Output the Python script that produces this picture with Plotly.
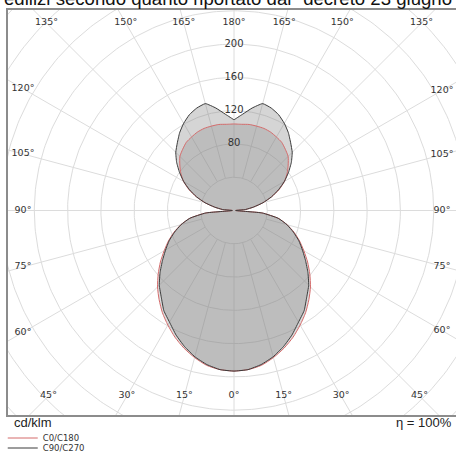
import numpy as np
import plotly.graph_objects as go

# ---- data ----
gamma = list(range(0, 181, 5))  # degrees, 0 = straight down
c0_c180 = [193, 192, 189, 183, 176, 168, 159, 150, 140, 130, 119, 108, 97, 87, 77, 66, 54, 34, 2,
           14, 24, 36, 48, 60, 70, 78, 85, 92, 96, 100, 102, 104, 105, 105, 105, 104, 104]
c90_c270 = [193, 192, 188, 182, 174, 165, 155, 147, 136, 127, 116, 105, 95, 86, 76, 66, 54, 34, 2,
            14, 24, 36, 48, 59, 70, 80, 90, 99, 106, 114, 121, 127, 131, 133, 125, 116, 109]

ring_values = [40, 80, 120, 160, 200, 240, 280, 320, 360, 400]
ring_labels = [80, 120, 160, 200]
spoke_angles = list(range(0, 360, 15))
top_labels = [135, 150, 165, 180, 165, 150, 135]
bottom_labels = [45, 30, 15, 0, 15, 30, 45]
side_labels = [120, 105, 90, 75, 60]

title_text = 'edilizi secondo quanto riportato dal "decreto 23 giugno'
unit_text = "cd/klm"
eta_text = "η = 100%"

# ---- geometry of the picture ----
W, H = 456, 454
CX, CY, S = 234.0, 210.5, 0.832        # centre in px and px per cd/klm
L_PX, R_PX, T_PX, B_PX = 8, 456, 10, 415

x_range = [(L_PX - CX) / S, (R_PX - CX) / S]
y_range = [(CY - B_PX) / S, (CY - T_PX) / S]

LABEL_FONT = dict(family="DejaVu Sans", size=9.5, color="#333333")


def closed_curve(values):
    g = np.radians(np.array(gamma, dtype=float))
    r = np.array(values, dtype=float)
    xr, yr = r * np.sin(g), -r * np.cos(g)
    x = np.concatenate([xr, -xr[::-1]])
    y = np.concatenate([yr, yr[::-1]])
    return x, y


fig = go.Figure()

# grid rings
t = np.radians(np.linspace(0, 360, 361))
for rv in ring_values:
    fig.add_trace(go.Scatter(x=rv * np.cos(t), y=rv * np.sin(t), mode="lines",
                             line=dict(color="#dcdcdc", width=1), hoverinfo="skip", showlegend=False))
# spokes
for a in spoke_angles:
    ar = np.radians(a)
    fig.add_trace(go.Scatter(x=[40 * np.sin(ar), 600 * np.sin(ar)], y=[-40 * np.cos(ar), -600 * np.cos(ar)],
                             mode="lines", line=dict(color="#dcdcdc", width=1),
                             hoverinfo="skip", showlegend=False))

# fills
xb, yb = closed_curve(c90_c270)
xr_, yr_ = closed_curve(c0_c180)
fig.add_trace(go.Scatter(x=xb, y=yb, mode="none", fill="toself",
                         fillcolor="rgba(128,128,128,0.33)", hoverinfo="skip", showlegend=False))
fig.add_trace(go.Scatter(x=xr_, y=yr_, mode="none", fill="toself",
                         fillcolor="rgba(128,128,128,0.28)", hoverinfo="skip", showlegend=False))

# outlines
fig.add_trace(go.Scatter(x=xr_, y=yr_, mode="lines", name="C0/C180",
                         line=dict(color="#d46b6b", width=1, shape="spline", smoothing=0.6),
                         legend="legend"))
fig.add_trace(go.Scatter(x=xb, y=yb, mode="lines", name="C90/C270",
                         line=dict(color="#3a3a3a", width=1, shape="spline", smoothing=0.4),
                         legend="legend2"))

# angle labels on an inset rectangle
LX, RX = (23 - CX) / S, (442 - CX) / S
TY, BY = (CY - 23) / S, (CY - 396) / S
lx, ly, lt = [], [], []
for i, a in enumerate(top_labels):
    d = 180 - a
    sgn = -1 if i < 3 else 1
    lx.append(sgn * TY * np.tan(np.radians(d)))
    ly.append(TY)
    lt.append(f"{a}°")
for i, a in enumerate(bottom_labels):
    sgn = -1 if i < 3 else 1
    lx.append(sgn * (-BY) * np.tan(np.radians(a)))
    ly.append(BY)
    lt.append(f"{a}°")
for a in side_labels:
    e = np.radians(a - 90)
    lx.append(LX); ly.append(-LX * np.tan(e)); lt.append(f"{a}°")
    lx.append(RX); ly.append(RX * np.tan(e)); lt.append(f"{a}°")
fig.add_trace(go.Scatter(x=lx, y=ly, mode="text", text=lt, textfont=LABEL_FONT,
                         cliponaxis=False, hoverinfo="skip", showlegend=False))
# radial labels
fig.add_trace(go.Scatter(x=[0] * len(ring_labels), y=ring_labels, mode="text",
                         text=[str(v) for v in ring_labels],
                         textfont=dict(family="DejaVu Sans", size=10, color="#333333"),
                         cliponaxis=False, hoverinfo="skip", showlegend=False))

def px_to_paper(px, py):
    return (px - L_PX) / (R_PX - L_PX), (B_PX - py) / (B_PX - T_PX)

tx, ty = px_to_paper(2, -1.5)
fig.add_annotation(text=title_text, xref="paper", yref="paper", x=tx, y=ty,
                   xanchor="left", yanchor="middle", showarrow=False,
                   font=dict(family="Liberation Sans", size=18.6, color="#111111"))
ux, uy = px_to_paper(12, 422.5)
fig.add_annotation(text=unit_text, xref="paper", yref="paper", x=ux, y=uy,
                   xanchor="left", yanchor="middle", showarrow=False,
                   font=dict(family="Liberation Sans", size=13, color="#222222"))
ex, ey = px_to_paper(454, 422.5)
fig.add_annotation(text=eta_text, xref="paper", yref="paper", x=ex, y=ey,
                   xanchor="right", yanchor="middle", showarrow=False,
                   font=dict(family="Liberation Sans", size=13, color="#222222"))

leg_common = dict(xref="container", yref="container", xanchor="left", yanchor="middle",
                  font=dict(family="DejaVu Sans", size=8.5, color="#333333"),
                  bgcolor="rgba(0,0,0,0)", borderwidth=0)
fig.update_layout(
    width=W, height=H,
    margin=dict(l=L_PX, r=W - R_PX, t=T_PX, b=H - B_PX, autoexpand=False),
    paper_bgcolor="white", plot_bgcolor="white",
    showlegend=True,
    legend=dict(x=0.006, y=1 - 438 / H, **leg_common),
    legend2=dict(x=0.006, y=1 - 448 / H, **leg_common),
    xaxis=dict(range=x_range, showgrid=False, zeroline=False, showticklabels=False, ticks="",
               showline=True, linecolor="#8c8c8c", linewidth=2, mirror=True, fixedrange=True),
    yaxis=dict(range=y_range, showgrid=False, zeroline=False, showticklabels=False, ticks="",
               showline=True, linecolor="#8c8c8c", linewidth=2, mirror=False, fixedrange=True),
)

fig.write_html("out.html", config={"displayModeBar": False},
               post_script="document.body.style.margin='0';document.body.style.padding='0';"
                           "document.body.style.overflow='hidden';")
